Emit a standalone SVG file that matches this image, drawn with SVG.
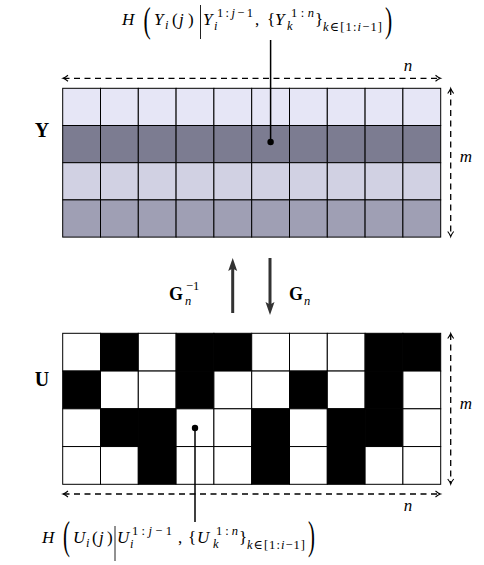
<svg xmlns="http://www.w3.org/2000/svg" width="484" height="565" viewBox="0 0 484 565">
<defs>
<style>
.mi{font-family:"Liberation Serif","DejaVu Serif",serif;font-style:italic;font-size:17px;fill:#000}
.rm{font-family:"Liberation Serif","DejaVu Serif",serif;font-size:17px;fill:#000}
.ms{font-family:"Liberation Serif","DejaVu Serif",serif;font-style:italic;font-size:12.5px;fill:#000}
.rs{font-family:"Liberation Serif","DejaVu Serif",serif;font-size:12.5px;fill:#000}
.dl{font-family:"Liberation Serif","DejaVu Serif",serif;font-size:16px;fill:#000}
.bf{font-family:"Liberation Serif","DejaVu Serif",serif;font-weight:bold;font-size:20px;fill:#000}
.bg{font-family:"Liberation Serif","DejaVu Serif",serif;font-weight:bold;font-size:18px;fill:#000}
.cell{stroke:#000;stroke-width:1}
.r0{fill:#e6e6f6}.r1{fill:#7c7c91}.r2{fill:#d1d1e3}.r3{fill:#9f9fb4}
.w{fill:#fff}.k{fill:#000}
.dash{fill:none;stroke:#000;stroke-width:1.3;stroke-dasharray:6 4.5;marker-start:url(#barb);marker-end:url(#barb)}
.lead{stroke:#000;stroke-width:1.5;fill:none}
.bar{stroke:#222;stroke-width:1;fill:none}
.thick{stroke:#333;stroke-width:3;fill:none}
</style>
<marker id="barb" markerUnits="userSpaceOnUse" markerWidth="10" markerHeight="10" viewBox="-6 -5 8 10" refX="0" refY="0" orient="auto-start-reverse">
<path d="M-4.5,-3 Q-1.5,-0.6 0.5,0 Q-1.5,0.6 -4.5,3" fill="none" stroke="#000" stroke-width="1.1"/>
</marker>
</defs>
<rect width="484" height="565" fill="#fff"/>

<g id="Y-grid">
<g class="cell r0">
<rect x="62.7" y="88.3" width="37.8" height="37.2"/><rect x="100.5" y="88.3" width="37.8" height="37.2"/><rect x="138.3" y="88.3" width="37.8" height="37.2"/><rect x="176.1" y="88.3" width="37.8" height="37.2"/><rect x="213.9" y="88.3" width="37.8" height="37.2"/><rect x="251.7" y="88.3" width="37.8" height="37.2"/><rect x="289.5" y="88.3" width="37.8" height="37.2"/><rect x="327.3" y="88.3" width="37.8" height="37.2"/><rect x="365.1" y="88.3" width="37.8" height="37.2"/><rect x="402.9" y="88.3" width="37.8" height="37.2"/>
</g>
<g class="cell r1">
<rect x="62.7" y="125.5" width="37.8" height="37.2"/><rect x="100.5" y="125.5" width="37.8" height="37.2"/><rect x="138.3" y="125.5" width="37.8" height="37.2"/><rect x="176.1" y="125.5" width="37.8" height="37.2"/><rect x="213.9" y="125.5" width="37.8" height="37.2"/><rect x="251.7" y="125.5" width="37.8" height="37.2"/><rect x="289.5" y="125.5" width="37.8" height="37.2"/><rect x="327.3" y="125.5" width="37.8" height="37.2"/><rect x="365.1" y="125.5" width="37.8" height="37.2"/><rect x="402.9" y="125.5" width="37.8" height="37.2"/>
</g>
<g class="cell r2">
<rect x="62.7" y="162.7" width="37.8" height="37.2"/><rect x="100.5" y="162.7" width="37.8" height="37.2"/><rect x="138.3" y="162.7" width="37.8" height="37.2"/><rect x="176.1" y="162.7" width="37.8" height="37.2"/><rect x="213.9" y="162.7" width="37.8" height="37.2"/><rect x="251.7" y="162.7" width="37.8" height="37.2"/><rect x="289.5" y="162.7" width="37.8" height="37.2"/><rect x="327.3" y="162.7" width="37.8" height="37.2"/><rect x="365.1" y="162.7" width="37.8" height="37.2"/><rect x="402.9" y="162.7" width="37.8" height="37.2"/>
</g>
<g class="cell r3">
<rect x="62.7" y="199.9" width="37.8" height="37.2"/><rect x="100.5" y="199.9" width="37.8" height="37.2"/><rect x="138.3" y="199.9" width="37.8" height="37.2"/><rect x="176.1" y="199.9" width="37.8" height="37.2"/><rect x="213.9" y="199.9" width="37.8" height="37.2"/><rect x="251.7" y="199.9" width="37.8" height="37.2"/><rect x="289.5" y="199.9" width="37.8" height="37.2"/><rect x="327.3" y="199.9" width="37.8" height="37.2"/><rect x="365.1" y="199.9" width="37.8" height="37.2"/><rect x="402.9" y="199.9" width="37.8" height="37.2"/>
</g>
<circle cx="270.6" cy="142" r="3.2" fill="#000"/>
</g>

<g id="U-grid" class="cell">
<rect class="w" x="62.7" y="333.3" width="37.8" height="37.75"/><rect class="k" x="100.5" y="333.3" width="37.8" height="37.75"/><rect class="w" x="138.3" y="333.3" width="37.8" height="37.75"/><rect class="k" x="176.1" y="333.3" width="37.8" height="37.75"/><rect class="k" x="213.9" y="333.3" width="37.8" height="37.75"/><rect class="w" x="251.7" y="333.3" width="37.8" height="37.75"/><rect class="w" x="289.5" y="333.3" width="37.8" height="37.75"/><rect class="w" x="327.3" y="333.3" width="37.8" height="37.75"/><rect class="k" x="365.1" y="333.3" width="37.8" height="37.75"/><rect class="k" x="402.9" y="333.3" width="37.8" height="37.75"/>
<rect class="k" x="62.7" y="371.05" width="37.8" height="37.75"/><rect class="w" x="100.5" y="371.05" width="37.8" height="37.75"/><rect class="w" x="138.3" y="371.05" width="37.8" height="37.75"/><rect class="k" x="176.1" y="371.05" width="37.8" height="37.75"/><rect class="w" x="213.9" y="371.05" width="37.8" height="37.75"/><rect class="w" x="251.7" y="371.05" width="37.8" height="37.75"/><rect class="k" x="289.5" y="371.05" width="37.8" height="37.75"/><rect class="w" x="327.3" y="371.05" width="37.8" height="37.75"/><rect class="k" x="365.1" y="371.05" width="37.8" height="37.75"/><rect class="w" x="402.9" y="371.05" width="37.8" height="37.75"/>
<rect class="w" x="62.7" y="408.8" width="37.8" height="37.75"/><rect class="k" x="100.5" y="408.8" width="37.8" height="37.75"/><rect class="k" x="138.3" y="408.8" width="37.8" height="37.75"/><rect class="w" x="176.1" y="408.8" width="37.8" height="37.75"/><rect class="w" x="213.9" y="408.8" width="37.8" height="37.75"/><rect class="k" x="251.7" y="408.8" width="37.8" height="37.75"/><rect class="w" x="289.5" y="408.8" width="37.8" height="37.75"/><rect class="k" x="327.3" y="408.8" width="37.8" height="37.75"/><rect class="k" x="365.1" y="408.8" width="37.8" height="37.75"/><rect class="w" x="402.9" y="408.8" width="37.8" height="37.75"/>
<rect class="w" x="62.7" y="446.55" width="37.8" height="37.75"/><rect class="w" x="100.5" y="446.55" width="37.8" height="37.75"/><rect class="k" x="138.3" y="446.55" width="37.8" height="37.75"/><rect class="w" x="176.1" y="446.55" width="37.8" height="37.75"/><rect class="w" x="213.9" y="446.55" width="37.8" height="37.75"/><rect class="k" x="251.7" y="446.55" width="37.8" height="37.75"/><rect class="w" x="289.5" y="446.55" width="37.8" height="37.75"/><rect class="k" x="327.3" y="446.55" width="37.8" height="37.75"/><rect class="w" x="365.1" y="446.55" width="37.8" height="37.75"/><rect class="w" x="402.9" y="446.55" width="37.8" height="37.75"/>
<circle cx="195" cy="428" r="3.2" fill="#000" stroke="none"/>
</g>

<g id="label-Y"><text class="bf" x="42" y="137" text-anchor="middle">Y</text></g>
<g id="label-U"><text class="bf" x="42" y="386" text-anchor="middle">U</text></g>

<g id="dim-labels">
<text class="mi" x="408" y="71" text-anchor="middle">n</text>
<text class="mi" x="466" y="162" text-anchor="middle">m</text>
<text class="mi" x="466" y="409" text-anchor="middle">m</text>
<text class="mi" x="408" y="511" text-anchor="middle">n</text>
</g>

<g id="label-Ginv">
<text class="bg" x="169" y="300">G</text>
<text class="ms" x="185" y="305">n</text>
<text class="rs" x="186" y="290">−1</text>
</g>
<g id="label-G">
<text class="bg" x="289" y="300">G</text>
<text class="ms" x="304" y="305">n</text>
</g>

<g id="formula-top">
<text class="mi" x="122" y="25">H</text>
<text class="dl" transform="translate(143.5,31.8) scale(1.35,2.2)">(</text>
<text class="mi" x="154" y="25">Y</text>
<text class="ms" x="165" y="29">i</text>
<text class="rm" x="172" y="25">(</text><text class="mi" x="179" y="25">j</text><text class="rm" x="188" y="25">)</text>
<line class="bar" x1="200.5" y1="5" x2="200.5" y2="39"/>
<text class="mi" x="203" y="25">Y</text>
<text class="ms" x="214" y="30">i</text>
<text class="rs" x="217" y="17" textLength="36" lengthAdjust="spacing">1:<tspan font-style="italic">j</tspan>−1</text>
<text class="rm" x="255" y="25">,</text>
<text class="rm" x="267" y="25">{</text>
<text class="mi" x="275" y="25">Y</text>
<text class="ms" x="287" y="30">k</text>
<text class="rs" x="291" y="17" textLength="23" lengthAdjust="spacing">1:<tspan font-style="italic">n</tspan></text>
<text class="rm" x="315" y="25">}</text>
<text class="ms" x="323" y="31" textLength="59" lengthAdjust="spacing">k<tspan font-style="normal">∈[1:</tspan>i<tspan font-style="normal">−1]</tspan></text>
<text class="dl" transform="translate(385,31.8) scale(1.35,2.2)">)</text>
</g>

<g id="formula-bottom">
<text class="mi" x="42" y="543">H</text>
<text class="dl" transform="translate(63,548.7) scale(1.3,2.57)">(</text>
<text class="mi" x="73" y="543">U</text>
<text class="ms" x="86" y="547">i</text>
<text class="rm" x="92" y="543">(</text><text class="mi" x="99" y="543">j</text><text class="rm" x="107" y="543">)</text>
<line class="bar" x1="115" y1="526" x2="115" y2="561"/>
<text class="mi" x="117" y="543">U</text>
<text class="ms" x="130" y="548">i</text>
<text class="rs" x="132" y="535" textLength="40" lengthAdjust="spacing">1:<tspan font-style="italic">j</tspan>−1</text>
<text class="rm" x="178" y="543">,</text>
<text class="rm" x="188" y="543">{</text>
<text class="mi" x="197" y="543">U</text>
<text class="ms" x="213" y="548">k</text>
<text class="rs" x="216" y="535" textLength="22" lengthAdjust="spacing">1:<tspan font-style="italic">n</tspan></text>
<text class="rm" x="239" y="543">}</text>
<text class="ms" x="247" y="549" textLength="58" lengthAdjust="spacing">k<tspan font-style="normal">∈[1:</tspan>i<tspan font-style="normal">−1]</tspan></text>
<text class="dl" transform="translate(308,548.7) scale(1.3,2.57)">)</text>
</g>

<g id="connectors">
<line class="lead" x1="270.6" y1="40" x2="270.6" y2="142"/>
<line class="lead" x1="195" y1="428" x2="195" y2="522"/>
<line class="dash" x1="63.5" y1="78.3" x2="440" y2="78.3"/>
<line class="dash" x1="450.7" y1="89" x2="450.7" y2="236"/>
<line class="dash" x1="450.7" y1="334" x2="450.7" y2="483.5"/>
<line class="dash" x1="63.5" y1="494" x2="440" y2="494"/>
<line class="thick" x1="232.7" y1="313" x2="232.7" y2="268"/>
<polygon points="232.7,258 228.2,271 232.7,268.5 237.2,271" fill="#333"/>
<line class="thick" x1="270" y1="258" x2="270" y2="305"/>
<polygon points="270,315 265.5,302 270,304.5 274.5,302" fill="#333"/>
</g>
</svg>
